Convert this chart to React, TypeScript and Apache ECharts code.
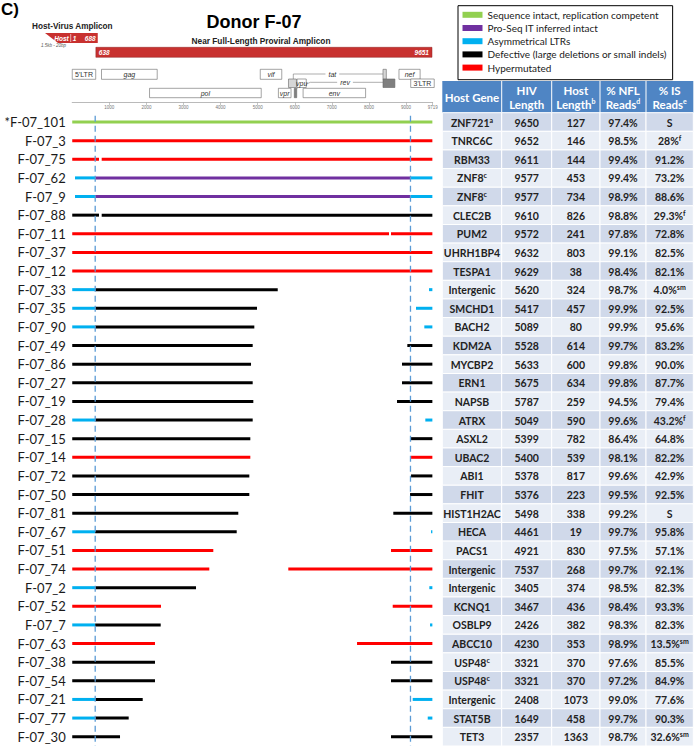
import React, { useEffect, useRef } from 'react';
import * as echarts from 'echarts';

// ---------- DATA ----------
const rowNames = [
  '*F-07_101', 'F-07_3', 'F-07_75', 'F-07_62', 'F-07_9', 'F-07_88', 'F-07_11', 'F-07_37', 'F-07_12',
  'F-07_33', 'F-07_35', 'F-07_90', 'F-07_49', 'F-07_86', 'F-07_27', 'F-07_19', 'F-07_28', 'F-07_15',
  'F-07_14', 'F-07_72', 'F-07_50', 'F-07_81', 'F-07_67', 'F-07_51', 'F-07_74', 'F-07_2', 'F-07_52',
  'F-07_7', 'F-07_63', 'F-07_38', 'F-07_54', 'F-07_21', 'F-07_77', 'F-07_30',
];

// segments per provirus: [start, end, type] in HXB2 coordinates
const rowSegments: [number, number, string][][] = [
  [[1, 9710, 'G']],
  [[1, 9710, 'H']],
  [[1, 722, 'H'], [795, 9710, 'H']],
  [[75, 620, 'C'], [620, 9120, 'P'], [9120, 9710, 'C']],
  [[75, 620, 'C'], [620, 9120, 'P'], [9120, 9710, 'C']],
  [[1, 722, 'D'], [795, 9710, 'D']],
  [[1, 8541, 'H'], [8595, 9710, 'H']],
  [[1, 9710, 'H']],
  [[1, 9710, 'H']],
  [[1, 620, 'C'], [620, 5541, 'D'], [9620, 9710, 'C']],
  [[1, 620, 'C'], [620, 4982, 'D'], [9269, 9710, 'C']],
  [[1, 620, 'C'], [620, 4910, 'D'], [9493, 9710, 'C']],
  [[1, 4866, 'D'], [9035, 9710, 'D']],
  [[1, 4821, 'D'], [8892, 9710, 'D']],
  [[1, 4866, 'D'], [8892, 9710, 'D']],
  [[1, 4883, 'D'], [8757, 9710, 'D']],
  [[1, 620, 'C'], [620, 4866, 'D'], [9520, 9710, 'C']],
  [[1, 4802, 'D'], [9108, 9710, 'D']],
  [[1, 4802, 'H'], [9135, 9710, 'H']],
  [[1, 4775, 'D'], [9135, 9710, 'D']],
  [[1, 4775, 'D'], [9108, 9710, 'D']],
  [[1, 4478, 'D'], [8657, 9710, 'D']],
  [[1, 620, 'C'], [620, 4435, 'D'], [9674, 9710, 'C']],
  [[1, 3804, 'H'], [8595, 9710, 'H']],
  [[1, 3696, 'H'], [5826, 9710, 'H']],
  [[1, 620, 'C'], [620, 3338, 'D'], [9628, 9710, 'C']],
  [[1, 2394, 'H'], [8641, 9710, 'H']],
  [[1, 620, 'C'], [620, 2386, 'D'], [9647, 9710, 'C']],
  [[1, 2232, 'H'], [7679, 9710, 'H']],
  [[1, 2232, 'D'], [8595, 9710, 'D']],
  [[1, 2232, 'D'], [8595, 9710, 'D']],
  [[1, 620, 'C'], [620, 1901, 'D'], [9180, 9710, 'C']],
  [[1, 620, 'C'], [620, 1523, 'D'], [9585, 9710, 'C']],
  [[1, 1289, 'D'], [8595, 9710, 'D']],
];

const ltrBoundaries = [620, 9120];

const typeCodes = ['G', 'P', 'C', 'D', 'H'];
const typeNames = [
  'Sequence intact, replication competent',
  'Pro-Seq IT inferred intact',
  'Asymmetrical LTRs',
  'Defective (large deletions or small indels)',
  'Hypermutated',
];
const typeColors = ['#92d050', '#7030a0', '#00b0f0', '#000000', '#ff0000'];

const hostGenes = [
  'ZNF721^a', 'TNRC6C', 'RBM33', 'ZNF8^c', 'ZNF8^c', 'CLEC2B', 'PUM2', 'UHRH1BP4', 'TESPA1', 'Intergenic',
  'SMCHD1', 'BACH2', 'KDM2A', 'MYCBP2', 'ERN1', 'NAPSB', 'ATRX', 'ASXL2', 'UBAC2', 'ABI1', 'FHIT',
  'HIST1H2AC', 'HECA', 'PACS1', 'Intergenic', 'Intergenic', 'KCNQ1', 'OSBLP9', 'ABCC10', 'USP48^c',
  'USP48^c', 'Intergenic', 'STAT5B', 'TET3',
];
const hivLengths = [
  9650, 9652, 9611, 9577, 9577, 9610, 9572, 9632, 9629, 5620, 5417, 5089, 5528, 5633, 5675, 5787, 5049,
  5399, 5400, 5378, 5376, 5498, 4461, 4921, 7537, 3405, 3467, 2426, 4230, 3321, 3321, 2408, 1649, 2357,
];
const hostLengths = [
  127, 146, 144, 453, 734, 826, 241, 803, 38, 324, 457, 80, 614, 600, 634, 259, 590, 782, 539, 817, 223,
  338, 19, 830, 268, 374, 436, 382, 353, 370, 370, 1073, 458, 1363,
];
const nflReads = [
  '97.4%', '98.5%', '99.4%', '99.4%', '98.9%', '98.8%', '97.8%', '99.1%', '98.4%', '98.7%', '99.9%',
  '99.9%', '99.7%', '99.8%', '99.8%', '94.5%', '99.6%', '86.4%', '98.1%', '99.6%', '99.5%', '99.2%',
  '99.7%', '97.5%', '99.7%', '98.5%', '98.4%', '98.3%', '98.9%', '97.6%', '97.2%', '99.0%', '99.7%', '98.7%',
];
const isReads = [
  'S', '28%^f', '91.2%', '73.2%', '88.6%', '29.3%^f', '72.8%', '82.5%', '82.1%', '4.0%^sm', '92.5%',
  '95.6%', '83.2%', '90.0%', '87.7%', '79.4%', '43.2%^f', '64.8%', '82.2%', '42.9%', '92.5%', 'S',
  '95.8%', '57.1%', '92.1%', '82.3%', '93.3%', '82.3%', '13.5%^sm', '85.5%', '84.9%', '77.6%', '90.3%',
  '32.6%^sm',
];
const tableHeaders = ['Host Gene', 'HIV\nLength', 'Host\nLength^b', '% NFL\nReads^d', '% IS\nReads^e'];

// HXB2 genome map features (track 0 top, 1 middle, 2 bottom)
const mapGenes = [
  { name: "5'LTR", start: 1, end: 634, track: 0, kind: 'ltr' },
  { name: 'gag', start: 790, end: 2292, track: 0, kind: 'gene' },
  { name: 'vif', start: 5070, end: 5650, track: 0, kind: 'gene' },
  { name: 'nef', start: 8810, end: 9380, track: 0, kind: 'gene' },
  { name: '', start: 8379, end: 8469, track: 0, kind: 'tat' },
  { name: '', start: 5831, end: 6045, track: 1, kind: 'tat' },
  { name: 'vpu', start: 6062, end: 6310, track: 1, kind: 'gene' },
  { name: '', start: 8379, end: 8700, track: 1, kind: 'rev' },
  { name: "3'LTR", start: 9126, end: 9760, track: 1, kind: 'ltr' },
  { name: 'pol', start: 2085, end: 5096, track: 2, kind: 'gene' },
  { name: 'vpr', start: 5559, end: 5900, track: 2, kind: 'gene' },
  { name: '', start: 5988, end: 6053, track: 2, kind: 'rev' },
  { name: 'env', start: 6225, end: 7910, track: 2, kind: 'gene' },
];
const spliceLinks = [
  { name: 'tat', from: 5961, bend: 5961, to: 8379, labelAt: 7013 },
  { name: 'rev', from: 6053, bend: 6420, to: 8379, labelAt: 7355 },
];
const amplicons = [
  { name: 'Host', start: -733, split: -40, end: 688, startLabel: '1', endLabel: '688' },
  { name: 'NFL', start: 638, split: null as number | null, end: 9700, startLabel: '638', endLabel: '9651' },
];

// ---------- LAYOUT ----------
const MAP_GRID = { left: 72.2, width: 360.5, top: 30, height: 72.7 };
const ROW_GRID = { left: 72.2, width: 360.5, top: 112.7, height: 633.3 };
const TAB_GRID = { left: 442.3, width: 251, top: 112.7, height: 633.3 };
const colEdges = [0, 59.4, 109.4, 157.7, 203.7, 251];
const TRACK_TOP = [39.3, 49, 58.3];
const TRACK_H = [10, 8.5, 9.4];
const AMP_RED = '#c8312f';
const HEADER_BLUE = '#4f85c4';
const BAND = ['#d0d9ea', '#e9eef6'];
const ARIAL = '"Liberation Sans", Arial, sans-serif';
const CAL = 'Lato, "Open Sans", sans-serif';

function toRich(s: string, main: string, sup: string) {
  return s
    .split('\n')
    .map((line) => {
      const [t, sp] = line.split('^');
      return `{${main}|${t}}` + (sp ? `{${sup}|${sp}}` : '');
    })
    .join('\n');
}

function buildOption(): any {
  const segSeries = typeCodes.map((code, ti) => {
    const data: number[][] = [];
    rowSegments.forEach((segs, ri) => {
      segs.forEach((s) => {
        if (s[2] === code) data.push([s[0], s[1], ri]);
      });
    });
    return {
      type: 'custom',
      name: typeNames[ti],
      coordinateSystem: 'cartesian2d',
      xAxisIndex: 1,
      yAxisIndex: 1,
      itemStyle: { color: typeColors[ti] },
      encode: { x: [0, 1], y: 2 },
      data,
      renderItem: (params: any, api: any) => {
        const s = api.coord([api.value(0), api.value(2)]);
        const e = api.coord([api.value(1), api.value(2)]);
        return {
          type: 'rect',
          shape: { x: s[0], y: s[1] - 1.5, width: Math.max(e[0] - s[0], 1.2), height: 3 },
          style: { fill: typeColors[ti] },
        };
      },
    };
  });

  const dashSeries = {
    type: 'custom',
    name: 'ltr-boundaries',
    coordinateSystem: 'cartesian2d',
    xAxisIndex: 1,
    yAxisIndex: 1,
    encode: { x: 0, y: 1 },
    z: 5,
    data: ltrBoundaries.map((v) => [v, 0]),
    renderItem: (params: any, api: any) => {
      const cs = params.coordSys;
      const x = api.coord([api.value(0), 0])[0];
      return {
        type: 'line',
        shape: { x1: x, y1: cs.y + 3, x2: x, y2: cs.y + cs.height },
        style: { stroke: '#5b9bd5', lineWidth: 1.3, lineDash: [6, 4] },
      };
    },
  };

  const linkSeries = {
    type: 'custom',
    name: 'links',
    coordinateSystem: 'cartesian2d',
    xAxisIndex: 0,
    yAxisIndex: 0,
    encode: { x: [0, 1], y: 3 },
    data: spliceLinks.map((l, i) => [l.from, l.to, i, 0]),
    renderItem: (params: any, api: any) => {
      const l = spliceLinks[api.value(2)];
      const cs = params.coordSys;
      const X = (v: number) => api.coord([v, 0])[0];
      const isTat = l.name === 'tat';
      const yLine = cs.y + (isTat ? 44 : 52.3);
      const yFrom = cs.y + (isTat ? 49 : 58.3);
      return {
        type: 'group',
        children: [
          {
            type: 'polyline',
            shape: { points: [[X(l.from), yFrom], [X(l.bend), yLine], [X(l.to), yLine]] },
            style: { stroke: '#777', lineWidth: 0.6, fill: null },
          },
          {
            type: 'text',
            x: X(l.labelAt),
            y: yLine,
            style: {
              text: l.name, align: 'center', verticalAlign: 'middle', fontSize: 7, fontStyle: 'italic',
              fontFamily: ARIAL, fill: '#333', backgroundColor: '#fff', padding: [0, 3],
            },
          },
        ],
      };
    },
  };

  const geneSeries = {
    type: 'custom',
    name: 'genes',
    coordinateSystem: 'cartesian2d',
    xAxisIndex: 0,
    yAxisIndex: 0,
    encode: { x: [0, 1], y: 3 },
    data: mapGenes.map((g, i) => [g.start, g.end, i, 0]),
    renderItem: (params: any, api: any) => {
      const g = mapGenes[api.value(2)];
      const cs = params.coordSys;
      const x0 = api.coord([g.start, 0])[0];
      const x1 = api.coord([g.end, 0])[0];
      const y0 = cs.y + TRACK_TOP[g.track];
      const h = TRACK_H[g.track];
      const fill = g.kind === 'tat' ? '#d6d6d6' : g.kind === 'rev' ? '#7f7f7f' : '#fff';
      const children: any[] = [
        { type: 'rect', shape: { x: x0, y: y0, width: x1 - x0, height: h }, style: { fill, stroke: '#666', lineWidth: 0.6 } },
      ];
      if (g.name) {
        children.push({
          type: 'text', x: (x0 + x1) / 2, y: y0 + h / 2,
          style: {
            text: g.name, align: 'center', verticalAlign: 'middle', fontSize: 7,
            fontStyle: g.kind === 'ltr' ? 'normal' : 'italic', fontFamily: ARIAL, fill: '#333',
          },
        });
      }
      return { type: 'group', children };
    },
  };

  const ampSeries = {
    type: 'custom',
    name: 'amplicons',
    coordinateSystem: 'cartesian2d',
    xAxisIndex: 0,
    yAxisIndex: 0,
    encode: { x: [0, 1], y: 3 },
    data: amplicons.map((a, i) => [a.start, a.end, i, 0]),
    renderItem: (params: any, api: any) => {
      const a = amplicons[api.value(2)];
      const cs = params.coordSys;
      const x0 = api.coord([a.start, 0])[0];
      const x1 = api.coord([a.end, 0])[0];
      const lab = (text: string, x: number, y: number, align: string) => ({
        type: 'text', x, y,
        style: { text, align, verticalAlign: 'middle', fontSize: 6.5, fontWeight: 'bold', fontStyle: 'italic', fontFamily: ARIAL, fill: '#fff' },
      });
      if (a.split !== null) {
        const top = cs.y + 3;
        const h = 10;
        const xs = api.coord([a.split, 0])[0];
        return {
          type: 'group',
          children: [
            { type: 'polygon', shape: { points: [[x0, top], [x1, top], [x1, top + h], [x0 + 13, top + h]] }, style: { fill: AMP_RED } },
            { type: 'line', shape: { x1: xs, y1: top + 1, x2: xs, y2: top + h - 1 }, style: { stroke: '#fff', lineWidth: 0.6 } },
            lab(a.name, xs - 2, top + h / 2, 'right'),
            lab(a.startLabel, xs + 2, top + h / 2, 'left'),
            lab(a.endLabel, x1 - 2, top + h / 2, 'right'),
            {
              type: 'text', x: x0 - 4, y: top + h + 2.3,
              style: { text: '1.5kb - 20bp', align: 'left', verticalAlign: 'middle', fontSize: 4.5, fontStyle: 'italic', fontFamily: ARIAL, fill: '#555' },
            },
          ],
        };
      }
      const top = cs.y + 17.3;
      const h = 10;
      return {
        type: 'group',
        children: [
          { type: 'rect', shape: { x: x0, y: top, width: x1 - x0, height: h }, style: { fill: AMP_RED, stroke: '#8e2222', lineWidth: 0.5 } },
          lab(a.startLabel, x0 + 3, top + h / 2, 'left'),
          lab(a.endLabel, x1 - 3, top + h / 2, 'right'),
        ],
      };
    },
  };

  const cellRich = {
    t: { fontFamily: CAL, fontSize: 10.5, fontWeight: 'bold', fill: '#222', lineHeight: 13 },
    s: { fontFamily: CAL, fontSize: 7, fontWeight: 'bold', fill: '#222', lineHeight: 7, verticalAlign: 'top' },
  };

  const tableSeries = {
    type: 'custom',
    name: 'table',
    coordinateSystem: 'cartesian2d',
    xAxisIndex: 2,
    yAxisIndex: 2,
    encode: { x: 0, y: 1 },
    data: rowNames.map((_, i) => [0, i]),
    renderItem: (params: any, api: any) => {
      const i = api.value(1);
      const yc = api.coord([0, i])[1];
      const h = api.size([0, 1])[1];
      const top = yc - h / 2;
      const vals = [hostGenes[i], String(hivLengths[i]), String(hostLengths[i]), nflReads[i], isReads[i]];
      const children: any[] = [];
      for (let c = 0; c < 5; c++) {
        const xa = api.coord([colEdges[c], i])[0];
        const xb = api.coord([colEdges[c + 1], i])[0];
        children.push({
          type: 'rect', shape: { x: xa, y: top, width: xb - xa, height: h },
          style: { fill: BAND[i % 2], stroke: '#fff', lineWidth: 1 },
        });
        children.push({
          type: 'text', x: (xa + xb) / 2, y: yc + 0.5,
          style: { text: toRich(vals[c], 't', 's'), align: 'center', verticalAlign: 'middle', rich: cellRich },
        });
      }
      return { type: 'group', children };
    },
  };

  // table header (layout in pixels)
  const headerChildren: any[] = [
    { type: 'rect', shape: { x: TAB_GRID.left, y: 81, width: TAB_GRID.width, height: 31.7 }, style: { fill: HEADER_BLUE } },
  ];
  colEdges.slice(1, -1).forEach((e) => {
    headerChildren.push({
      type: 'line', shape: { x1: TAB_GRID.left + e, y1: 81, x2: TAB_GRID.left + e, y2: 112.7 },
      style: { stroke: '#fff', lineWidth: 1 },
    });
  });
  tableHeaders.forEach((hd, c) => {
    headerChildren.push({
      type: 'text',
      x: TAB_GRID.left + (colEdges[c] + colEdges[c + 1]) / 2,
      y: 97,
      style: {
        text: toRich(hd, 'h', 's'), align: 'center', verticalAlign: 'middle',
        rich: {
          h: { fontFamily: CAL, fontSize: 11.5, fontWeight: 'bold', fill: '#fff', lineHeight: 14 },
          s: { fontFamily: CAL, fontSize: 7, fontWeight: 'bold', fill: '#fff', lineHeight: 7, verticalAlign: 'top' },
        },
      },
    });
  });

  return {
    animation: false,
    backgroundColor: '#fff',
    legend: {
      data: typeNames,
      orient: 'vertical',
      left: 458,
      top: 5.7,
      icon: 'rect',
      itemWidth: 20,
      itemHeight: 6,
      itemGap: 1,
      padding: [3, 6, 6, 4.5],
      borderColor: '#000',
      borderWidth: 1,
      backgroundColor: '#fff',
      selectedMode: false,
      textStyle: { fontFamily: CAL, fontSize: 10, color: '#1a1a1a', lineHeight: 12.2 },
    },
    grid: [
      { ...MAP_GRID },
      { ...ROW_GRID },
      { ...TAB_GRID },
    ],
    xAxis: [
      {
        gridIndex: 0, type: 'value', min: 0, max: 9719, interval: 1000,
        axisLine: { lineStyle: { color: '#8c8c8c', width: 0.6 } },
        axisTick: { length: 2.5, lineStyle: { color: '#8c8c8c', width: 0.5 } },
        axisLabel: {
          fontSize: 4.5, color: '#777', margin: 2, showMinLabel: false, showMaxLabel: true, fontFamily: ARIAL,
          formatter: (v: number) => String(v),
        },
        splitLine: { show: false },
      },
      { gridIndex: 1, type: 'value', min: 0, max: 9719, show: false, splitLine: { show: false } },
      { gridIndex: 2, type: 'value', min: 0, max: 251, show: false, splitLine: { show: false } },
    ],
    yAxis: [
      { gridIndex: 0, type: 'value', min: 0, max: 1, show: false, splitLine: { show: false } },
      {
        gridIndex: 1, type: 'category', data: rowNames, inverse: true,
        axisLine: { show: false }, axisTick: { show: false }, splitLine: { show: false },
        axisLabel: { fontFamily: CAL, fontSize: 13, color: '#1a1a1a', margin: 6.5 },
      },
      { gridIndex: 2, type: 'category', data: rowNames, inverse: true, show: false },
    ],
    graphic: [
      { type: 'text', x: 1, y: 9, style: { text: 'C)', align: 'left', verticalAlign: 'middle', fontSize: 17, fontWeight: 'bold', fontFamily: ARIAL, fill: '#000' } },
      { type: 'text', x: 254, y: 21.7, style: { text: 'Donor F-07', align: 'center', verticalAlign: 'middle', fontSize: 18, fontWeight: 'bold', fontFamily: ARIAL, fill: '#000' } },
      { type: 'text', x: 32, y: 26.7, style: { text: 'Host-Virus Amplicon', align: 'left', verticalAlign: 'middle', fontSize: 8.2, fontWeight: 'bold', fontFamily: ARIAL, fill: '#222' } },
      { type: 'text', x: 261, y: 40.7, style: { text: 'Near Full-Length Proviral Amplicon', align: 'center', verticalAlign: 'middle', fontSize: 8.3, fontWeight: 'bold', fontFamily: ARIAL, fill: '#222' } },
      { type: 'group', children: headerChildren },
    ],
    series: [linkSeries, geneSeries, ampSeries, ...segSeries, dashSeries, tableSeries],
  };
}

export default function App() {
  const ref = useRef<HTMLDivElement>(null);
  useEffect(() => {
    if (!ref.current) return;
    const chart = echarts.init(ref.current, null, { renderer: 'svg' });
    chart.setOption(buildOption());
    return () => chart.dispose();
  }, []);
  return (
    <div
      ref={ref}
      style={{ position: 'fixed', left: 0, top: 0, width: 696, height: 746, background: '#fff' }}
    />
  );
}
